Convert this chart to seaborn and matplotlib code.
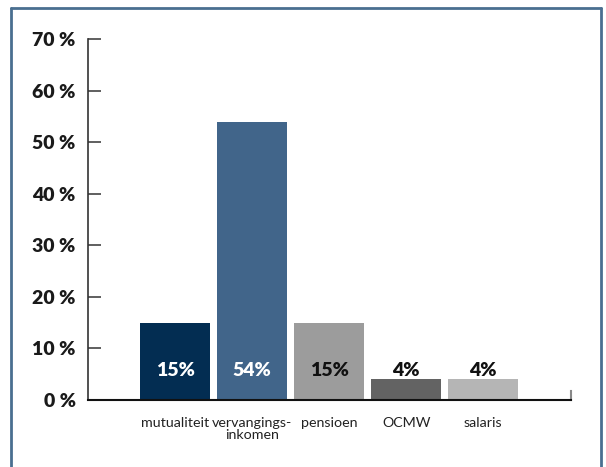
import matplotlib
matplotlib.use("Agg")
import matplotlib.pyplot as plt
import seaborn as sns
import pandas as pd
from matplotlib.lines import Line2D

categories = ["mutualiteit", "vervangings-\ninkomen", "pensioen", "OCMW", "salaris"]
values = [15, 54, 15, 4, 4]
value_labels = ["15%", "54%", "15%", "4%", "4%"]
colors = ["#032d52", "#41658a", "#9c9c9c", "#636363", "#b5b5b5"]
label_colors = ["white", "white", "#111111", "#111111", "#111111"]
yticks = [0, 10, 20, 30, 40, 50, 60, 70]
ytick_labels = ["0 %", "10 %", "20 %", "30 %", "40 %", "50 %", "60 %", "70 %"]

sns.set_style("white")
plt.rcParams["font.family"] = ["Lato", "DejaVu Sans"]

df = pd.DataFrame({"cat": categories, "val": values})

fig = plt.figure(figsize=(6.06, 4.67), dpi=100)
ax = fig.add_axes([88/606, 1-400/467, (571-88)/606, (400-39)/467])

sns.barplot(data=df, x="cat", y="val", hue="cat", palette=colors, legend=False,
            width=0.91, saturation=1, ax=ax, linewidth=0)

ax.set_xlim(-1.13, 5.14)
ax.set_ylim(0, 70)
ax.set_yticks(yticks)
ax.set_yticklabels(ytick_labels, fontsize=14, fontweight="heavy", color="#1a1a1a")
ax.tick_params(axis="y", left=True, direction="in", length=9, width=1.2,
               color="#444444", pad=9)
ax.tick_params(axis="x", bottom=False, length=0, pad=12)
for lab in ax.get_xticklabels():
    lab.set_fontsize(10.3)
    lab.set_color("#222222")
    lab.set_linespacing(1.05)
ax.set_xlabel("")
ax.set_ylabel("")

ax.spines["top"].set_visible(False)
ax.spines["left"].set_color("#333333")
ax.spines["left"].set_linewidth(1.2)
ax.spines["bottom"].set_color("#111111")
ax.spines["bottom"].set_linewidth(1.5)
ax.spines["right"].set_bounds(0, 1.75)
ax.spines["right"].set_color("#888888")
ax.spines["right"].set_linewidth(1.5)

for i, (lab, c) in enumerate(zip(value_labels, label_colors)):
    ax.text(i, 5.8, lab, ha="center", va="center", fontsize=14,
            fontweight="heavy", color=c)

frame_color = "#4a6f90"
fig.add_artist(Line2D([10.5/606, 10.5/606], [0, 1-8/467], transform=fig.transFigure,
                      color=frame_color, lw=2))
fig.add_artist(Line2D([10.5/606, 601/606], [1-8/467, 1-8/467], transform=fig.transFigure,
                      color=frame_color, lw=2))
fig.add_artist(Line2D([601/606, 601/606], [0, 1-8/467], transform=fig.transFigure,
                      color=frame_color, lw=2))

fig.savefig("out.png", dpi=100)
